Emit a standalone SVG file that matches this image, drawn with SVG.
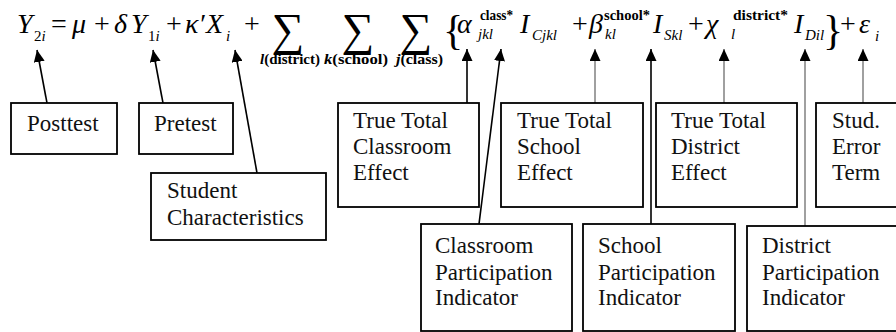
<svg xmlns="http://www.w3.org/2000/svg" width="896" height="332" viewBox="0 0 896 332" font-family="Liberation Serif, DejaVu Serif, serif">
<defs>
<marker id="ah" markerUnits="userSpaceOnUse" markerWidth="12" markerHeight="11" refX="12" refY="5.5" orient="auto">
<path d="M0,0 L12,5.5 L0,11 z" fill="#000"/>
</marker>
<style>
.box{fill:#fff;stroke:#000;stroke-width:1.8}
.lbl{font-size:23px;fill:#111}
.it{font-style:italic}
.m{font-size:28px}
.sub{font-size:15px}
.sup{font-size:14px;font-weight:bold}
.sig{font-size:46px}
.idx{font-size:14px;font-weight:bold}
.br{font-size:42px}
.c{stroke:#000;stroke-width:1.6;fill:none;marker-end:url(#ah)}
.g{stroke:#a0a0a0;stroke-width:2;fill:none;marker-end:url(#ah)}
</style>
</defs>
<rect width="896" height="332" fill="#fff"/>
<g id="equation">
<text class="m it" x="17" y="33">Y</text>
<text class="sub" x="34" y="41">2<tspan class="it">i</tspan></text>
<text class="m" x="51" y="33">=</text>
<text class="m it" x="72" y="33">μ</text>
<text class="m" x="94" y="33">+</text>
<text class="m it" x="114" y="33">δ</text>
<text class="m it" x="131" y="33">Y</text>
<text class="sub" x="148" y="41">1<tspan class="it">i</tspan></text>
<text class="m" x="166" y="33">+</text>
<text class="m it" x="185" y="33">κ′</text>
<text class="m it" x="206" y="33">X</text>
<text class="sub it" x="226" y="41">i</text>
<text class="m" x="244" y="33">+</text>
<text class="sig" x="288" y="45" text-anchor="middle">∑</text>
<text class="sig" x="358" y="45" text-anchor="middle">∑</text>
<text class="sig" x="416" y="45" text-anchor="middle">∑</text>
<text class="idx" x="260" y="64" textLength="60" lengthAdjust="spacingAndGlyphs"><tspan class="it">l</tspan>(district)</text>
<text class="idx" x="324" y="64" textLength="64" lengthAdjust="spacingAndGlyphs"><tspan class="it">k</tspan>(school)</text>
<text class="idx" x="396" y="64" textLength="47" lengthAdjust="spacingAndGlyphs"><tspan class="it">j</tspan>(class)</text>
<text class="br" x="443" y="44">{</text>
<text class="m it" x="457" y="33">α</text>
<text class="sup" x="480" y="20" textLength="33" lengthAdjust="spacingAndGlyphs">class*</text>
<text class="sub it" x="478" y="39">jkl</text>
<text class="m it" x="520" y="33">I</text>
<text class="sub it" x="532" y="40">Cjkl</text>
<text class="m" x="572" y="33">+</text>
<text class="m it" x="589" y="33">β</text>
<text class="sup" x="604" y="20" textLength="46" lengthAdjust="spacingAndGlyphs">school*</text>
<text class="sub it" x="605" y="39">kl</text>
<text class="m it" x="653" y="33">I</text>
<text class="sub it" x="664" y="40">Skl</text>
<text class="m" x="688" y="33">+</text>
<text class="m it" x="706" y="33">χ</text>
<text class="sup" x="733" y="20" textLength="55" lengthAdjust="spacingAndGlyphs">district*</text>
<text class="sub it" x="731" y="39">l</text>
<text class="m it" x="794" y="33">I</text>
<text class="sub it" x="805" y="40">Dil</text>
<text class="br" x="823" y="44">}</text>
<text class="m" x="840" y="33">+</text>
<text class="m it" x="859" y="33">ε</text>
<text class="sub it" x="875" y="41">i</text>
</g>
<g id="connectors">
<line class="c" x1="47" y1="103" x2="37" y2="50"/>
<line class="c" x1="163" y1="103" x2="153" y2="50"/>
<line class="c" x1="257" y1="173" x2="235" y2="50"/>
<line class="c" x1="467" y1="103" x2="467" y2="49"/>
<line class="c" x1="479" y1="224" x2="501" y2="49"/>
<line class="g" x1="595" y1="103" x2="595" y2="49"/>
<line class="c" x1="651" y1="224" x2="651" y2="49"/>
<line class="g" x1="724" y1="103" x2="724" y2="49"/>
<line class="g" x1="805" y1="226" x2="805" y2="49"/>
<line class="g" x1="863" y1="103" x2="863" y2="49"/>
</g>
<g id="posttest"><rect class="box" x="11" y="103" width="106" height="51"/><text class="lbl" x="27" y="131">Posttest</text></g>
<g id="pretest"><rect class="box" x="139" y="103" width="94" height="51"/><text class="lbl" x="154" y="131">Pretest</text></g>
<g id="student"><rect class="box" x="151" y="173" width="175" height="67"/><text class="lbl" x="167" y="198">Student</text><text class="lbl" x="167" y="225">Characteristics</text></g>
<g id="classroom-effect"><rect class="box" x="338" y="103" width="141" height="104"/><text class="lbl" x="353" y="128">True Total</text><text class="lbl" x="353" y="154">Classroom</text><text class="lbl" x="353" y="180">Effect</text></g>
<g id="school-effect"><rect class="box" x="501" y="103" width="142" height="104"/><text class="lbl" x="517" y="128">True Total</text><text class="lbl" x="517" y="154">School</text><text class="lbl" x="517" y="180">Effect</text></g>
<g id="district-effect"><rect class="box" x="656" y="103" width="141" height="104"/><text class="lbl" x="671" y="128">True Total</text><text class="lbl" x="671" y="154">District</text><text class="lbl" x="671" y="180">Effect</text></g>
<g id="error-term"><rect class="box" x="816" y="103" width="90" height="104"/><text class="lbl" x="832" y="128">Stud.</text><text class="lbl" x="832" y="154">Error</text><text class="lbl" x="832" y="180">Term</text></g>
<g id="classroom-participation"><rect class="box" x="421" y="224" width="151" height="107"/><text class="lbl" x="435" y="253">Classroom</text><text class="lbl" x="435" y="280">Participation</text><text class="lbl" x="435" y="305">Indicator</text></g>
<g id="school-participation"><rect class="box" x="583" y="224" width="152" height="107"/><text class="lbl" x="598" y="253">School</text><text class="lbl" x="598" y="280">Participation</text><text class="lbl" x="598" y="305">Indicator</text></g>
<g id="district-participation"><rect class="box" x="747" y="226" width="160" height="105"/><text class="lbl" x="762" y="253">District</text><text class="lbl" x="762" y="280">Participation</text><text class="lbl" x="762" y="305">Indicator</text></g>
</svg>
